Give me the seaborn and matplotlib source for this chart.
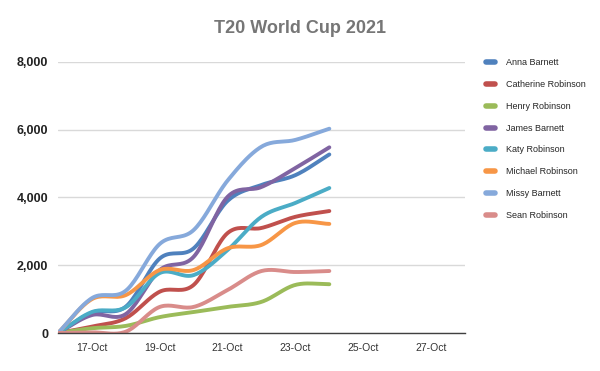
import numpy as np
import pandas as pd
import matplotlib
matplotlib.use("Agg")
import matplotlib.pyplot as plt
import seaborn as sns

# days in October (16th to 24th)
days = [16, 17, 18, 19, 20, 21, 22, 23, 24]

names = ["Anna Barnett", "Catherine Robinson", "Henry Robinson", "James Barnett",
         "Katy Robinson", "Michael Robinson", "Missy Barnett", "Sean Robinson"]

anna = [0, 600, 780, 2200, 2500, 3900, 4370, 4660, 5270]
catherine = [0, 190, 440, 1220, 1420, 2950, 3100, 3430, 3600]
henry = [0, 140, 210, 470, 620, 770, 920, 1420, 1440]
james = [0, 530, 560, 1860, 2250, 4020, 4310, 4870, 5480]
katy = [0, 620, 760, 1770, 1710, 2450, 3430, 3840, 4280]
michael = [0, 1000, 1120, 1860, 1860, 2500, 2600, 3250, 3220]
missy = [0, 1030, 1250, 2630, 3040, 4500, 5500, 5700, 6030]
sean = [0, 20, 40, 770, 770, 1270, 1830, 1800, 1830]

colors = ["#4F81BD", "#C0504D", "#9BBB59", "#8064A2",
          "#4BACC6", "#F79646", "#86A9DB", "#D98C8A"]

xtick_days = [17, 19, 21, 23, 25, 27]
xtick_labels = ["17-Oct", "19-Oct", "21-Oct", "23-Oct", "25-Oct", "27-Oct"]
ytick_vals = [0, 2000, 4000, 6000, 8000]
ytick_labels = ["0", "2,000", "4,000", "6,000", "8,000"]


def smooth(x, y, n=20):
    # catmull-rom style curve, like Excel's smoothed line
    x = np.asarray(x, float)
    y = np.asarray(y, float)
    px = np.concatenate([[2 * x[0] - x[1]], x, [2 * x[-1] - x[-2]]])
    py = np.concatenate([[2 * y[0] - y[1]], y, [2 * y[-1] - y[-2]]])
    xs, ys = [], []
    t = np.linspace(0, 1, n, endpoint=False)
    for i in range(1, len(px) - 2):
        for p, out in ((px, xs), (py, ys)):
            p0, p1, p2, p3 = p[i - 1], p[i], p[i + 1], p[i + 2]
            m1 = (p2 - p0) / 6
            m2 = (p3 - p1) / 6
            c1 = p1 + m1
            c2 = p2 - m2
            out.extend((1 - t) ** 3 * p1 + 3 * (1 - t) ** 2 * t * c1
                       + 3 * (1 - t) * t ** 2 * c2 + t ** 3 * p2)
    xs.append(x[-1])
    ys.append(y[-1])
    return np.array(xs), np.array(ys)


series = [anna, catherine, henry, james, katy, michael, missy, sean]
frames = []
for name, vals in zip(names, series):
    sx, sy = smooth(days, vals)
    frames.append(pd.DataFrame({"day": sx, "runs": sy, "player": name}))
df = pd.concat(frames, ignore_index=True)

sns.set_style("white")
plt.rcParams['font.family'] = ['Liberation Sans', 'DejaVu Sans']

fig = plt.figure(figsize=(6, 3.71), dpi=100)
ax = fig.add_axes([0.0967, 0.1024, 0.6783, 0.7306])

sns.lineplot(data=df, x="day", y="runs", hue="player", hue_order=names,
             palette=dict(zip(names, colors)), linewidth=2.8, sort=False,
             ax=ax, legend=False)

ax.set_xlim(16, 28)
ax.set_ylim(0, 8000)
ax.set_xticks(xtick_days)
ax.set_xticklabels(xtick_labels, fontsize=7.5, color="#333333")
ax.set_yticks(ytick_vals)
ax.set_yticklabels(ytick_labels, fontsize=9, fontweight="bold", color="#222222")
ax.tick_params(axis="both", length=0, pad=7)
ax.set_xlabel("")
ax.set_ylabel("")
ax.yaxis.grid(True, color="#D9D9D9", linewidth=1)
ax.set_axisbelow(True)
for s in ["top", "right", "left"]:
    ax.spines[s].set_visible(False)
ax.spines["bottom"].set_color("#404040")
ax.spines["bottom"].set_linewidth(1)

fig.suptitle("T20 World Cup 2021", x=0.5, y=0.945, fontsize=13,
             fontweight="bold", color="#767676")

handles = [plt.Line2D([], [], color=c, linewidth=4) for c in colors]
fig.legend(handles, names, loc="upper left", bbox_to_anchor=(0.797, 0.865),
           frameon=False, fontsize=6.5, handlelength=1.0, handletextpad=1.2,
           labelspacing=1.42)

fig.savefig("out.png", dpi=100)
